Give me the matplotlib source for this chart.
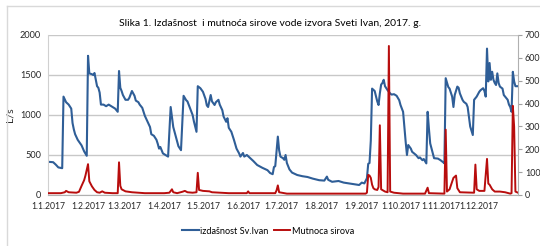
import datetime as dt

import matplotlib
matplotlib.use('Agg')
import matplotlib.pyplot as plt
from matplotlib.lines import Line2D

plt.rcParams['font.family'] = ['Lato', 'DejaVu Sans']

# day offsets from 1.1.2017 and values
blue_day = [0, 4, 6, 8, 11, 12, 14, 16, 18, 19, 20, 21, 23, 26, 28, 30,
            31, 32, 34, 35, 36, 37, 38, 39, 40, 41, 43, 45, 47, 49, 52, 54,
            55, 56, 57, 58, 60, 62, 63, 65, 67, 68, 70, 71, 73, 75, 77, 79,
            80, 82, 84, 85, 86, 87, 89, 91, 93, 95, 97, 99, 101, 103,
            105, 107, 108, 110, 112, 113, 115, 116, 118, 120, 122, 123, 124,
            126, 127, 129, 130, 132, 133, 135, 136, 138, 139, 140, 142, 144,
            146, 148, 149, 151, 152, 154, 157, 159, 162, 166, 170, 172, 174,
            175, 176, 178, 179, 180, 182, 183, 184, 185, 187, 189, 193, 197,
            201, 205, 210, 214, 216, 217, 220, 225, 229, 233, 237, 241, 243,
            245, 247, 248, 249, 250, 251, 253, 255, 256, 257, 258, 259, 260,
            261, 263, 265, 266, 268, 270, 272, 273, 275, 276, 277, 278, 279,
            281, 282, 285, 287, 288, 290, 291, 293, 294, 295, 296, 298, 299,
            302, 304, 306, 307, 308, 310, 311, 313, 314, 315, 317, 318, 319,
            321, 322, 324, 325, 326, 327, 329, 330, 332, 334, 335, 337, 338,
            339, 340, 341, 342, 343, 344, 345, 346, 347, 348, 349, 350, 352,
            353, 355, 356, 357, 358, 359, 360, 361, 362, 364]
blue_val = [415, 410, 380, 345, 335, 1230, 1160, 1130, 1080, 900, 820, 760, 690, 620, 545, 490,
            1740, 1520, 1510, 1500, 1525, 1440, 1360, 1340, 1280, 1130, 1130, 1110, 1130, 1110, 1080, 1040,
            1550, 1340, 1300, 1250, 1190, 1190, 1215, 1300, 1240, 1180, 1160, 1130, 1090, 990, 920, 850,
            760, 740, 690, 640, 580, 600, 520, 500, 480, 1100, 850, 730, 610, 560,
            1240, 1185, 1170, 1085, 1000, 920, 790, 1360, 1335, 1290, 1200, 1120, 1100,
            1250, 1170, 1125, 1160, 1190, 1130, 1060, 980, 915, 960, 840, 790, 690,
            580, 520, 480, 525, 480, 500, 455, 425, 375, 340, 310, 275, 260,
            350, 360, 730, 560, 480, 460, 440, 500, 400, 320, 280, 250, 235,
            225, 205, 185, 180, 230, 190, 165, 175, 155, 145, 135, 125, 155,
            145, 210, 390, 400, 680, 1330, 1300, 1170, 1125, 1270, 1380, 1400, 1440,
            1360, 1310, 1270, 1255, 1260, 1240, 1185, 1125, 1040, 850, 665, 500, 625,
            580, 540, 500, 460, 470, 435, 450, 395, 1040, 830, 645, 520, 460,
            455, 435, 410, 395, 1460, 1350, 1330, 1230, 1100, 1250, 1355, 1340, 1270,
            1190, 1165, 1140, 1100, 980, 855, 750, 1190, 1230, 1290, 1310, 1335, 1300,
            1230, 1830, 1420, 1650, 1440, 1540, 1440, 1400, 1375, 1520, 1400, 1355, 1330,
            1250, 1210, 1190, 1130, 1100, 1040, 1540, 1420, 1360, 1360]

red_day = [0, 10, 13, 14, 16, 22, 24, 26, 28, 29, 31, 32, 34, 36, 38, 40, 42, 44,
           50, 54, 55, 56, 57, 60, 65, 75, 90, 94, 96, 97, 100, 104, 106, 108,
           112, 115, 116, 117, 120, 125, 127, 140, 154, 155, 156, 176, 177, 178,
           179, 185, 246, 247, 248, 249, 250, 251, 252, 253, 255, 256, 257, 258,
           261, 263, 264, 265, 268, 275, 292, 294, 295, 307, 308, 309, 311, 314,
           316, 317, 319, 330, 331, 332, 334, 338, 340, 341, 342, 344, 346, 350,
           354, 358, 359, 360, 361, 362, 364]
red_val = [8, 8, 12, 18, 12, 10, 14, 40, 65, 85, 135, 60, 38, 22, 12, 10, 16, 10,
           8, 8, 143, 40, 25, 16, 12, 8, 8, 10, 25, 12, 8, 14, 18, 12,
           10, 12, 97, 22, 18, 16, 12, 8, 8, 16, 8, 8, 20, 42,
           12, 6, 6, 10, 88, 85, 75, 45, 30, 25, 22, 35, 305, 25,
           15, 12, 652, 15, 10, 6, 6, 32, 8, 6, 286, 15, 25, 75,
           85, 30, 12, 10, 133, 25, 18, 18, 158, 50, 45, 25, 15, 15,
           12, 6, 8, 390, 300, 15, 10]

month_labels = ['1.1.2017', '1.2.2017', '1.3.2017', '1.4.2017', '1.5.2017', '1.6.2017',
                '1.7.2017', '1.8.2017', '1.9.2017', '1.10.2017', '1.11.2017', '1.12.2017']

start = dt.date(2017, 1, 1)
blue_dates = [start + dt.timedelta(days=d) for d in blue_day]
red_dates = [start + dt.timedelta(days=d) for d in red_day]
month_ticks = [dt.date(2017, m, 1) for m in range(1, 13)]

BLUE = '#2F5E97'
RED = '#B80D0D'
GRID = '#C8C8C8'
TXT = '#262626'

fig = plt.figure(figsize=(5.4, 2.46), dpi=100)
ax = fig.add_axes([48 / 540, 1 - 195 / 246, 470 / 540, 160 / 246])
ax2 = ax.twinx()

l1, = ax.plot(blue_dates, blue_val, color=BLUE, lw=1.5, solid_joinstyle='round')
l2, = ax2.plot(red_dates, red_val, color=RED, lw=1.4, solid_joinstyle='round')

ax.set_xlim(start, dt.date(2017, 12, 31))
ax.set_ylim(0, 2000)
ax2.set_ylim(0, 700)
ax.set_yticks([0, 500, 1000, 1500, 2000])
ax2.set_yticks(range(0, 701, 100))
ax.set_xticks(month_ticks)
ax.set_xticklabels(month_labels)

ax.grid(axis='y', color=GRID, lw=1)
ax.set_axisbelow(True)
ax.tick_params(axis='x', length=0, labelsize=6.2, colors=TXT, pad=5)
ax.tick_params(axis='y', length=0, labelsize=6.6, colors=TXT, pad=5)
ax2.tick_params(axis='y', length=3, width=0.8, color='#A0A0A0', labelsize=6.4,
                labelcolor=TXT, pad=2)

for a in (ax, ax2):
    for s in a.spines.values():
        s.set_visible(False)
ax.spines['bottom'].set_visible(True)
ax.spines['bottom'].set_color('#B0B0B0')
ax.spines['left'].set_visible(True)
ax.spines['left'].set_color('#D0D0D0')
ax2.spines['right'].set_visible(True)
ax2.spines['right'].set_color('#B0B0B0')

ax.set_ylabel('L/s', fontsize=7.5, color=TXT, labelpad=4)

fig.text(270 / 540, 1 - 23 / 246,
         'Slika 1. Izdašnost  i mutnoća sirove vode izvora Sveti Ivan, 2017. g.',
         ha='center', va='center', fontsize=7.5, color='black')

fig.legend([l1, l2], ['izdašnost Sv.Ivan', 'Mutnoca sirova'], loc='center',
           bbox_to_anchor=(268 / 540, 1 - 231 / 246), ncol=2, frameon=False,
           fontsize=6.6, handlelength=1.8, handletextpad=0.15, columnspacing=0.6)

# outer chart frame
fig.add_artist(Line2D([7 / 540, 1], [1 - 6 / 246, 1 - 6 / 246],
                      transform=fig.transFigure, color='#D9D9D9', lw=1))
fig.add_artist(Line2D([7 / 540, 7 / 540], [0, 1 - 6 / 246],
                      transform=fig.transFigure, color='#D9D9D9', lw=1))

fig.savefig('out.png', dpi=100)
